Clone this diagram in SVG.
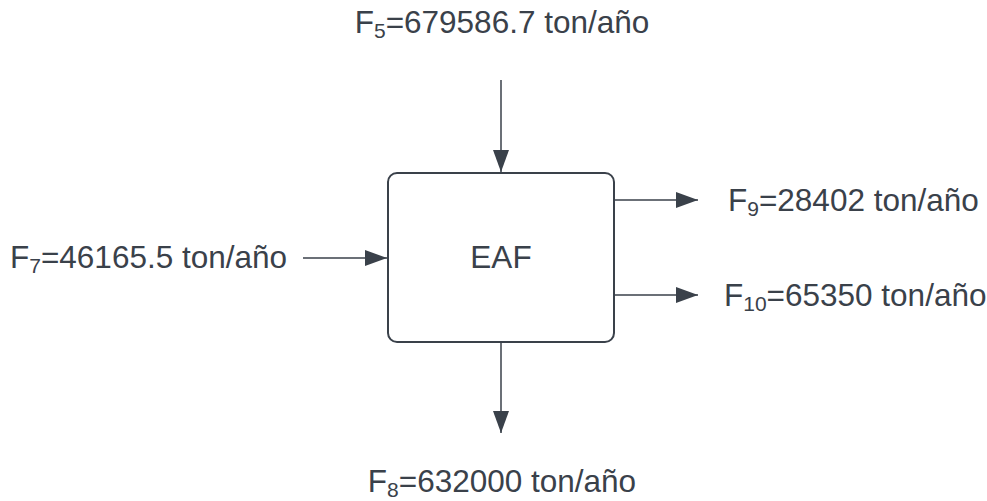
<svg xmlns="http://www.w3.org/2000/svg" width="987" height="501" viewBox="0 0 987 501">
<style>
.t{font-family:"Liberation Sans",Arial,sans-serif;font-size:31.5px;fill:#3a414a}
.s{font-size:21px}
.c{stroke:#3a414a;stroke-width:1.5;fill:none}
.box{fill:#fff;stroke:#3a414a;stroke-width:2}
</style>
<defs>
<marker id="ah" viewBox="0 0 22 16" refX="22" refY="8" markerWidth="22" markerHeight="16" markerUnits="userSpaceOnUse" orient="auto">
<path d="M0,0 L22,8 L0,16 Z" fill="#3a414a"/>
</marker>
</defs>
<rect width="987" height="501" fill="#fff"/>
<g id="connectors">
<line class="c" x1="501" y1="80" x2="501" y2="172" marker-end="url(#ah)"/>
<line class="c" x1="303" y1="258" x2="387" y2="258" marker-end="url(#ah)"/>
<line class="c" x1="615" y1="200" x2="698" y2="200" marker-end="url(#ah)"/>
<line class="c" x1="615" y1="295" x2="698" y2="295" marker-end="url(#ah)"/>
<line class="c" x1="501" y1="343" x2="501" y2="433" marker-end="url(#ah)"/>
</g>
<g id="eaf">
<rect class="box" x="388" y="173" width="226" height="169" rx="9"/>
<text class="t" x="501" y="268" text-anchor="middle">EAF</text>
</g>
<g id="f5"><text class="t" x="502" y="33" text-anchor="middle">F<tspan class="s" dy="5">5</tspan><tspan dy="-5">=679586.7 ton/año</tspan></text></g>
<g id="f7"><text class="t" x="10" y="268">F<tspan class="s" dy="5">7</tspan><tspan dy="-5">=46165.5 ton/año</tspan></text></g>
<g id="f9"><text class="t" x="728" y="211">F<tspan class="s" dy="5">9</tspan><tspan dy="-5">=28402 ton/año</tspan></text></g>
<g id="f10"><text class="t" x="724" y="306">F<tspan class="s" dy="5">10</tspan><tspan dy="-5">=65350 ton/año</tspan></text></g>
<g id="f8"><text class="t" x="502" y="492" text-anchor="middle">F<tspan class="s" dy="5">8</tspan><tspan dy="-5">=632000 ton/año</tspan></text></g>
</svg>
